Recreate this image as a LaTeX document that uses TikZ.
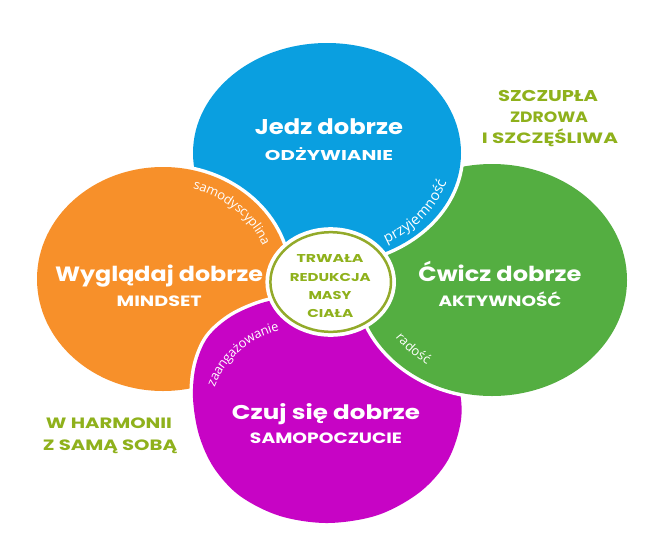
\documentclass[tikz,border=0pt]{standalone}
\usepackage{fontspec}
\usepackage{graphicx}
\usetikzlibrary{decorations.text}
\newfontfamily\headfont{Poppins}
\newfontfamily\lblfont{Open Sans}
\newcommand\lblsize{\lblfont\fontsize{13}{15}\selectfont}
\newcommand\lblbig{\lblfont\fontsize{14.5}{16}\selectfont}
\newcommand\fitbox[3]{\resizebox{#1pt}{#2pt}{\smash{#3}\vphantom{X}}}
\definecolor{cblue}{HTML}{0A9FE0}
\definecolor{cgreen}{HTML}{54AE41}
\definecolor{cpurple}{HTML}{C704C5}
\definecolor{corange}{HTML}{F7902A}
\definecolor{colive}{HTML}{8FB11C}
\definecolor{cborder}{HTML}{93AA2A}
\begin{document}
\begin{tikzpicture}[x=1pt,y=-1pt,
  blob/.style={preaction={draw=white,line width=7pt},fill=#1},
  head/.style={inner sep=0pt,text=white,font=\headfont\bfseries},
  olivetext/.style={inner sep=0pt,text=colive,font=\headfont\bfseries},
  lbl/.style={decorate,decoration={text along path,text align=center,
     text color=white,raise=-3.5pt,text={|\lblsize|#1}}},
  lblb/.style={decorate,decoration={text along path,text align=center,
     text color=white,raise=-4pt,text={|\lblbig|#1}}}]
\useasboundingbox (0,0) rectangle (667,544);
\fill[white] (0,0) rectangle (667,544);
% blobs (cyclic overlap)
\path[blob=cblue] (327,153) ellipse [x radius=134, y radius=110];
\path[blob=corange] (163,279) ellipse [x radius=126, y radius=112];
\path[blob=cpurple] plot[smooth cycle, tension=0.55] coordinates {
  (300,297) (265,302) (232,316) (208,337) (196,365) (193,398) (199,435)
  (214,468) (240,496) (280,516) (328,523) (378,515) (420,492) (448,460)
  (461,420) (458,385) (440,350) (410,322) (370,302) (330,296)};
\path[blob=cgreen] (492,280) ellipse [x radius=135, y radius=116];
\begin{scope}
  \clip (330,0) rectangle (667,282);
  \path[blob=cblue] (327,153) ellipse [x radius=134, y radius=110];
\end{scope}
% centre
\path[preaction={draw=white,line width=10pt},fill=white,draw=cborder,line width=2.5pt]
  (330.7,282) ellipse [x radius=60.3, y radius=49.8];
% curved labels
\path[lbl=samodyscyplina] ([shift={(163,279)}]-77:110 and 97.5)
  arc[start angle=-77,end angle=-17,x radius=110,y radius=97.5];
\path[lblb=przyjemność] ([shift={(327,153)}]80:120.6 and 99)
  arc[start angle=80,end angle=-6,x radius=120.6,y radius=99];
\path[lbl=radość] ([shift={(492,280)}]155:113.8 and 97.8)
  arc[start angle=155,end angle=115,x radius=113.8,y radius=97.8];
\path[lbl=zaangażowanie] ([shift={(300,420)}]194:95)
  arc[start angle=194,end angle=264,radius=95];
% headings
\node[head] (jedz) at (329,127.3) {\fitbox{148}{15}{Jedz dobrze}};
\node[head] (odz) at (329,155) {\fitbox{128}{10}{ODŻYWIANIE}};
\node[head] (wyg) at (159,274.5) {\fitbox{208}{14.5}{Wyglądaj dobrze}};
\node[head] (mind) at (159.2,301.3) {\fitbox{85}{10.5}{MINDSET}};
\node[head] (cwicz) at (500,274.5) {\fitbox{163}{14.5}{Ćwicz dobrze}};
\node[head] (akt) at (500,301.3) {\fitbox{123}{10.5}{AKTYWNOŚĆ}};
\node[head] (czuj) at (326,412.7) {\fitbox{188}{14}{Czuj się dobrze}};
\node[head] (samop) at (326,438) {\fitbox{152}{10.5}{SAMOPOCZUCIE}};
% centre text
\node[olivetext] (c1) at (330,258.8) {\fitbox{67}{8}{TRWAŁA}};
\node[olivetext] (c2) at (330.3,277.2) {\fitbox{81}{8}{REDUKCJA}};
\node[olivetext] (c3) at (330,295) {\fitbox{43}{8}{MASY}};
\node[olivetext] (c4) at (330.3,313.3) {\fitbox{46}{8}{CIAŁA}};
% corner texts
\node[olivetext] (t1) at (548,95.5) {\fitbox{100}{11}{SZCZUPŁA}};
\node[olivetext] (t2) at (549,117) {\fitbox{78}{10.5}{ZDROWA}};
\node[olivetext] (t3) at (550,138.5) {\fitbox{136}{10.5}{I SZCZĘŚLIWA}};
\node[olivetext] (b1) at (109,423) {\fitbox{126}{10.5}{W HARMONII}};
\node[olivetext] (b2) at (110,445) {\fitbox{134}{10.5}{Z SAMĄ SOBĄ}};
\end{tikzpicture}
\end{document}
